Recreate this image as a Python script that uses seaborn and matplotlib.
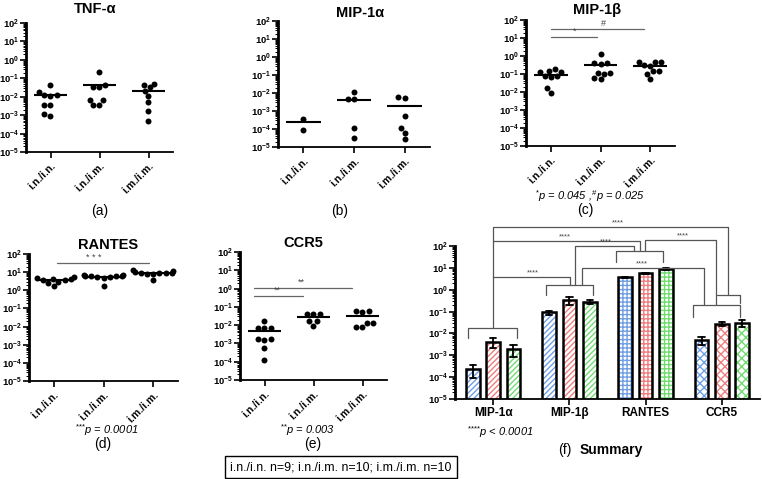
import numpy as np
import pandas as pd
import matplotlib
matplotlib.use("Agg")
import matplotlib.pyplot as plt
import matplotlib.ticker as mticker
import matplotlib.transforms as mtransforms
from matplotlib.patches import Rectangle
import seaborn as sns

W, H = 762, 479

GROUPS = ["i.n./i.n.", "i.n./i.m.", "i.m./i.m."]
CYTOKINES = ["MIP-1α", "MIP-1β", "RANTES", "CCR5"]
BAR_COLOURS = ["#6f9fe6", "#ee7f7f", "#72dc72"]
HATCHES = ["//////", "//////", "++++", "xxxx"]

# relative expression, one list per group
tnf_nn = [0.042, 0.019, 0.013, 0.012, 0.011, 0.0036, 0.0036, 0.00095, 0.0011]
tnf_nm = [0.23, 0.043, 0.034, 0.035, 0.0065, 0.0065, 0.0035, 0.0035]
tnf_mm = [0.045, 0.032, 0.052, 0.020, 0.011, 0.005, 0.0017, 0.0005]

mip1a_nn = [3.7e-4, 9e-5]
mip1a_nm = [0.011, 0.0045, 0.0047, 1.1e-4, 3.2e-5]
mip1a_mm = [0.0058, 0.0053, 5e-4, 1.2e-4, 6.3e-5, 2.8e-5]

mip1b_nn = [0.144, 0.123, 0.076, 0.070, 0.078, 0.134, 0.178, 0.016, 0.0087]
mip1b_nm = [1.29, 0.39, 0.40, 0.38, 0.107, 0.105, 0.11, 0.056, 0.058]
mip1b_mm = [0.48, 0.47, 0.49, 0.29, 0.30, 0.144, 0.14, 0.10, 0.052]

rantes_nn = [5.5, 4.5, 4.0, 4.2, 3.5, 3.0, 2.5, 3.8, 1.8]
rantes_nm = [6.0, 7.0, 5.8, 6.5, 5.0, 5.5, 6.8, 5.2, 1.8, 6.2]
rantes_mm = [12.5, 9.0, 9.5, 10.0, 8.5, 7.5, 11.0, 9.0, 3.5, 8.0]

ccr5_nn = [0.017, 0.0068, 0.0070, 0.0066, 0.0017, 0.0018, 0.0016, 5.9e-4, 1.26e-4]
ccr5_nm = [0.042, 0.043, 0.041, 0.016, 0.0165, 0.0091]
ccr5_mm = [0.056, 0.055, 0.057, 0.0129, 0.013, 0.0078, 0.0079]

BRACKET = "#555555"


def fig_box(left, top, right, bottom):
    return [left / W, 1 - bottom / H, (right - left) / W, (bottom - top) / H]


def ftext(x, y, s, **kw):
    kw.setdefault("ha", "center")
    kw.setdefault("va", "center")
    return fig.text(x / W, 1 - y / H, s, **kw)


def long_frame(groups):
    return pd.DataFrame({
        "group": np.repeat(GROUPS, [len(g) for g in groups]),
        "value": np.concatenate(groups),
    })


def style_log_axis(ax):
    ax.set_yscale("log")
    ax.set_ylim(1e-5, 1e2)
    ax.yaxis.set_major_locator(mticker.LogLocator(base=10, numticks=10))
    ax.yaxis.set_minor_locator(mticker.LogLocator(base=10, subs=np.arange(2, 10), numticks=20))
    ax.yaxis.set_minor_formatter(mticker.NullFormatter())
    ax.yaxis.set_major_formatter(mticker.FuncFormatter(
        lambda v, p: r"$\mathbf{10^{%d}}$" % round(np.log10(v))))
    sns.despine(ax=ax)
    ax.spines["left"].set_linewidth(2.0)
    ax.spines["bottom"].set_linewidth(1.3)
    ax.tick_params(axis="y", which="major", length=4, width=1.2, pad=1.2, labelsize=6.8)
    ax.tick_params(axis="y", which="minor", length=2.2, width=0.7)
    ax.tick_params(axis="x", length=4, width=1.2, pad=2)
    ax.set_xlabel("")
    ax.set_ylabel("")


def scatter_panel(box, groups, title, title_xy):
    ax = fig.add_axes(fig_box(*box))
    ax.set_yscale("log")
    sns.swarmplot(data=long_frame(groups), x="group", y="value", order=GROUPS,
                  color="black", size=4.3, ax=ax)
    for i, g in enumerate(groups):
        ax.hlines(np.mean(g), i - 0.34, i + 0.34, color="black", lw=1.5, zorder=3)
    style_log_axis(ax)
    ax.set_xlim(-0.5, 2.5)
    ax.set_xticks(range(3))
    ax.set_xticklabels(GROUPS, rotation=45, ha="right", va="top",
                       rotation_mode="anchor", fontsize=7.5, fontweight="bold")
    ftext(*title_xy, title, fontsize=10.5, fontweight="bold")
    return ax


def sig_line(ax, x0, x1, y, label, xl):
    ax.plot([x0, x1], [y, y], color="#666666", lw=0.9, clip_on=False)
    ax.text(xl, y * 1.15, label, ha="center", va="bottom", fontsize=6.5, color="#444444")


sns.set_theme(style="ticks")
plt.rcParams["font.family"] = ["Liberation Sans", "DejaVu Sans"]
plt.rcParams["mathtext.fontset"] = "custom"
plt.rcParams["mathtext.rm"] = "Liberation Sans"
plt.rcParams["mathtext.bf"] = "Liberation Sans:bold"
plt.rcParams["mathtext.it"] = "Liberation Sans:italic"
plt.rcParams["hatch.linewidth"] = 1.0
for key in ["text.color", "axes.labelcolor", "xtick.color", "ytick.color", "axes.edgecolor"]:
    plt.rcParams[key] = "black"

fig = plt.figure(figsize=(W / 100, H / 100), dpi=100)

# (a) - (e) scatter panels
scatter_panel((26, 23, 173, 152), [tnf_nn, tnf_nm, tnf_mm], "TNF-α", (95, 9))
scatter_panel((278, 21, 430, 147), [mip1a_nn, mip1a_nm, mip1a_mm], "MIP-1α", (360, 13))
axc = scatter_panel((526, 20, 675, 146), [mip1b_nn, mip1b_nm, mip1b_mm], "MIP-1β", (597, 10))
axd = scatter_panel((29, 254, 178, 381), [rantes_nn, rantes_nm, rantes_mm], "RANTES", (108, 245))
axe = scatter_panel((240, 252, 387, 380), [ccr5_nn, ccr5_nm, ccr5_mm], "CCR5", (303, 243))

sig_line(axc, 0, 0.92, 11, "*", 0.48)
sig_line(axc, 0, 1.88, 32, "#", 1.06)
sig_line(axd, 0.06, 1.92, 31.6, "* * *", 0.8)
sig_line(axe, -0.21, 0.79, 0.39, "**", 0.26)
sig_line(axe, -0.21, 1.79, 1.05, "**", 0.76)

ftext(100, 211, "(a)", fontsize=10)
ftext(340, 211, "(b)", fontsize=10)
ftext(590, 196, r"$^{{*}}$p = 0.045 ,$^{\#}$p = 0.025", fontsize=8, style="italic")
ftext(585, 210, "(c)", fontsize=10)
ftext(107, 430, r"$^{{*}{*}{*}}$p = 0.0001", fontsize=8, style="italic")
ftext(103, 444, "(d)", fontsize=10)
ftext(308, 430, r"$^{{*}{*}}$p = 0.003", fontsize=8, style="italic")
ftext(313, 444, "(e)", fontsize=10)

# (f) summary bars: mean +/- SEM of the same groups
summary_df = pd.concat([
    long_frame([mip1a_nn, mip1a_nm, mip1a_mm]).assign(cytokine="MIP-1α"),
    long_frame([mip1b_nn, mip1b_nm, mip1b_mm]).assign(cytokine="MIP-1β"),
    long_frame([rantes_nn, rantes_nm, rantes_mm]).assign(cytokine="RANTES"),
    long_frame([ccr5_nn, ccr5_nm, ccr5_mm]).assign(cytokine="CCR5"),
], ignore_index=True)

axf = fig.add_axes(fig_box(455, 246, 760, 399))
sns.barplot(data=summary_df, x="cytokine", y="value", hue="group",
            order=CYTOKINES, hue_order=GROUPS, palette=BAR_COLOURS, saturation=1,
            errorbar="se", capsize=0.25,
            err_kws={"color": "black", "linewidth": 1.3},
            width=0.8, gap=0.33, edgecolor="black", linewidth=1.8,
            legend=False, ax=axf)
style_log_axis(axf)
axf.set_xlim(-0.5, 3.5)
axf.set_xticks(range(4))
axf.set_xticklabels(CYTOKINES, fontweight="bold", fontsize=8.5)

# coloured hatch under a black outline
for bar in list(axf.patches):
    cat = int(round(bar.get_x() + bar.get_width() / 2))
    colour = bar.get_facecolor()
    axf.add_patch(Rectangle(bar.get_xy(), bar.get_width(), bar.get_height(),
                            facecolor="white", edgecolor=colour, hatch=HATCHES[cat],
                            lw=0, zorder=bar.get_zorder() - 0.5))
    bar.set_facecolor("none")

# significance brackets: x in data units, y in axes fraction
trans = mtransforms.blended_transform_factory(axf.transData, axf.transAxes)
brackets = [
    [(-0.33, 0.401), (-0.33, 0.466), (0.31, 0.466), (0.31, 0.401)],
    [(0, 0.466), (0, 1.126), (3.08, 1.126), (3.08, 0.680)],
    [(0, 1.035), (1.926, 1.035), (1.926, 0.969)],
    [(0, 0.799), (1.008, 0.799), (1.008, 0.745)],
    [(0.693, 0.680), (0.693, 0.745), (1.31, 0.745), (1.31, 0.680)],
    [(1.074, 0.745), (1.074, 1.002), (1.85, 1.002), (1.85, 0.969)],
    [(1.166, 0.745), (1.166, 0.858), (2.77, 0.858), (2.77, 0.614)],
    [(1.61, 0.895), (1.61, 0.969), (2.23, 0.969), (2.23, 0.895)],
    [(1.99, 0.969), (1.99, 1.039), (2.92, 1.039), (2.92, 0.614)],
    [(2.93, 0.680), (3.24, 0.680), (3.24, 0.625)],
    [(2.62, 0.538), (2.62, 0.614), (3.24, 0.614), (3.24, 0.538)],
]
for pts in brackets:
    xs, ys = zip(*pts)
    axf.plot(xs, ys, transform=trans, color=BRACKET, lw=0.9, clip_on=False)
for x, y in [(1.63, 1.126), (0.94, 1.035), (1.48, 1.002), (2.49, 1.039), (0.52, 0.799), (1.95, 0.858)]:
    axf.text(x, y + 0.004, "****", transform=trans, ha="center", va="bottom",
             fontsize=5.5, color="#444444")

ftext(467, 432, r"$^{{*}{*}{*}{*}}$p < 0.0001", fontsize=8, style="italic", ha="left")
ftext(558, 450, "(f)", fontsize=10, ha="left")
ftext(580, 450, "Summary", fontsize=10, fontweight="bold", ha="left")

ftext(341, 467, "i.n./i.n. n=9; i.n./i.m. n=10; i.m./i.m. n=10", fontsize=8.9,
      bbox=dict(boxstyle="square,pad=0.4", facecolor="white", edgecolor="black", lw=1))

fig.savefig("out.png", dpi=100)
